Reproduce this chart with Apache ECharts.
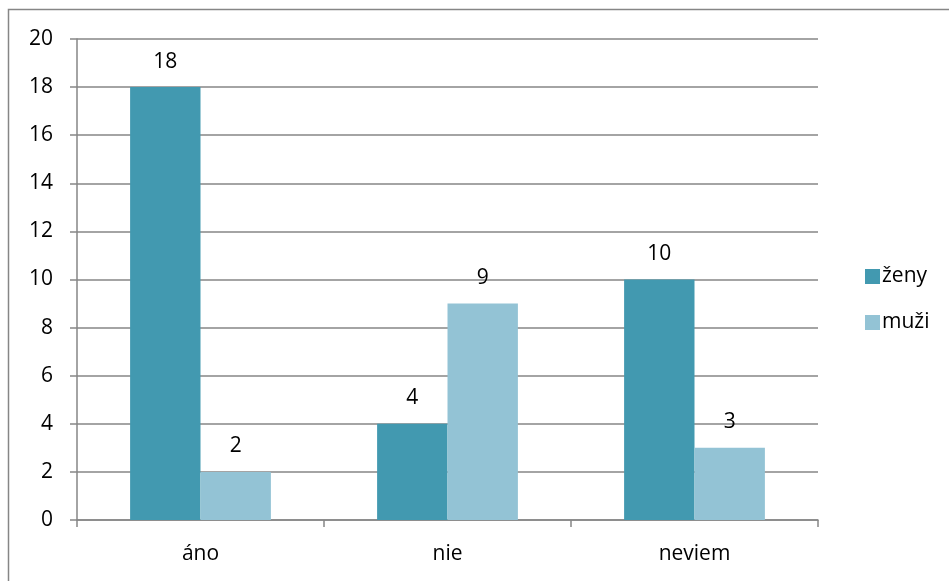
<!DOCTYPE html>
<html><head><meta charset="utf-8">
<script src="https://cdn.jsdelivr.net/npm/echarts@6/dist/echarts.min.js"></script>
<style>html,body{margin:0;padding:0;background:#fff}#c{width:949px;height:581px}</style>
</head><body><div id="c"></div>
<script>
const categories = ['áno', 'nie', 'neviem'];
const zeny = [18, 4, 10];
const muzi = [2, 9, 3];
const seriesNames = ['ženy', 'muži'];
const yTicks = [0, 2, 4, 6, 8, 10, 12, 14, 16, 18, 20];

const chart = echarts.init(document.getElementById('c'), null, {renderer: 'canvas'});
const font = '"Open Sans", Lato, sans-serif';
const fs = 21;
const axisColor = '#868686';
chart.setOption({
  animation: false,
  backgroundColor: '#fff',
  textStyle: {fontFamily: font},
  graphic: [{type: 'rect', shape: {x: 8.5, y: 9.5, width: 960, height: 620}, style: {fill: 'none', stroke: axisColor, lineWidth: 1.5}, silent: true}],
  grid: {left: 77, right: 131, top: 39, bottom: 61, containLabel: false},
  legend: {
    orient: 'vertical', left: 860, top: 261, itemWidth: 15, itemHeight: 15, itemGap: 25,
    icon: 'rect', textStyle: {fontFamily: font, fontSize: fs, color: '#000', padding: [0,0,0,-3]},
    data: seriesNames
  },
  xAxis: {
    type: 'category', data: categories,
    axisLine: {lineStyle: {color: axisColor, width: 1.5}},
    axisTick: {show: true, length: 7, lineStyle: {color: axisColor, width: 1.5}},
    axisLabel: {color: '#000', fontSize: fs, fontFamily: font, margin: 24}
  },
  yAxis: {
    type: 'value', min: yTicks[0], max: yTicks[yTicks.length-1], interval: 2,
    axisLine: {show: true, lineStyle: {color: axisColor, width: 1.5}},
    axisTick: {show: true, length: 7, lineStyle: {color: axisColor, width: 1.5}},
    splitLine: {show: true, lineStyle: {color: axisColor, width: 1.5}},
    axisLabel: {color: '#000', fontSize: fs, fontFamily: font, margin: 24}
  },
  series: [
    {name: seriesNames[0], type: 'bar', data: zeny, barGap: '0%', barCategoryGap: '43%',
     itemStyle: {color: '#4299B0'},
     label: {show: true, position: 'top', distance: 15, color: '#000', fontSize: fs, fontFamily: font}},
    {name: seriesNames[1], type: 'bar', data: muzi, barGap: '0%', barCategoryGap: '43%',
     itemStyle: {color: '#93C3D5'},
     label: {show: true, position: 'top', distance: 15, color: '#000', fontSize: fs, fontFamily: font}}
  ]
});
</script></body></html>
